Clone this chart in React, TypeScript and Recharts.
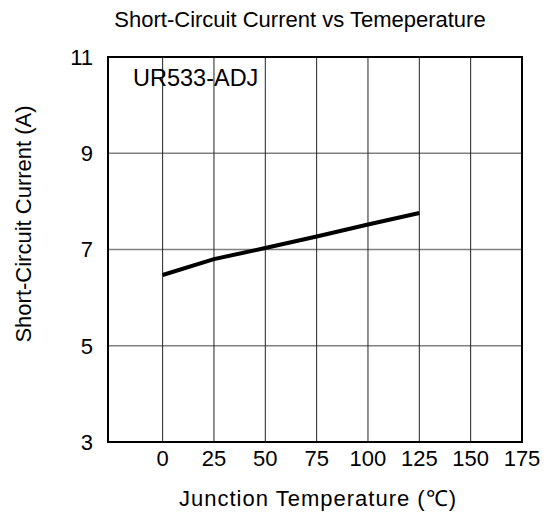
import React from 'react';
import { LineChart, Line, XAxis, YAxis, CartesianGrid, ReferenceArea } from 'recharts';

const temperatures = [0, 25, 50, 75, 100, 125];
const currents = [6.47, 6.8, 7.03, 7.27, 7.52, 7.76];
const xTicks = [0, 25, 50, 75, 100, 125, 150, 175];
const yTicks = [3, 5, 7, 9, 11];

const data = temperatures.map((t, i) => ({ t, current: currents[i] }));

const FONT = '"Liberation Sans", Arial, sans-serif';

export default function App() {
    return (
        <div style={{ position: 'absolute', left: 0, top: 0, width: 552, height: 513, background: '#fff', fontFamily: FONT }}>
            <div style={{ position: 'absolute', left: 300, top: 7, transform: 'translateX(-50%)', fontSize: 22, color: '#000', whiteSpace: 'nowrap' }}>
                Short-Circuit Current vs Temeperature
            </div>
            <LineChart
                width={552}
                height={513}
                data={data}
                margin={{ top: 57, right: 30, bottom: 0, left: 48 }}
            >
                <CartesianGrid horizontal={true} vertical={false} stroke="#808080" strokeWidth={1.5} />
                <CartesianGrid horizontal={false} vertical={true} stroke="#222" strokeWidth={1} />
                <XAxis
                    dataKey="t"
                    type="number"
                    domain={[-26.6, 175]}
                    ticks={xTicks}
                    allowDataOverflow
                    tickLine={false}
                    axisLine={{ stroke: '#000', strokeWidth: 2 }}
                    height={71}
                    tick={{ fill: '#000', fontSize: 22, fontFamily: FONT }}
                />
                <YAxis
                    type="number"
                    domain={[3, 11]}
                    ticks={yTicks}
                    allowDataOverflow
                    tickLine={false}
                    axisLine={{ stroke: '#000', strokeWidth: 2 }}
                    width={60}
                    tickMargin={9}
                    tick={{ fill: '#000', fontSize: 22, fontFamily: FONT }}
                />
                <ReferenceArea x1={-26.6} x2={175} y1={3} y2={11} fill="none" stroke="#000" strokeWidth={2} ifOverflow="visible" />
                <Line
                    type="linear"
                    dataKey="current"
                    stroke="#000"
                    strokeWidth={4}
                    dot={false}
                    isAnimationActive={false}
                />
            </LineChart>
            <div style={{ position: 'absolute', left: 133, top: 65, fontSize: 23.5, color: '#000', whiteSpace: 'nowrap' }}>
                UR533-ADJ
            </div>
            <div style={{ position: 'absolute', left: 318, top: 482, transform: 'translateX(-50%)', fontSize: 22, letterSpacing: 1, color: '#000', whiteSpace: 'nowrap' }}>
                Junction Temperature (℃)
            </div>
            <div style={{ position: 'absolute', left: 24, top: 224, transform: 'translate(-50%, -50%) rotate(-90deg)', fontSize: 22, color: '#000', whiteSpace: 'nowrap' }}>
                Short-Circuit Current (A)
            </div>
        </div>
    );
}
